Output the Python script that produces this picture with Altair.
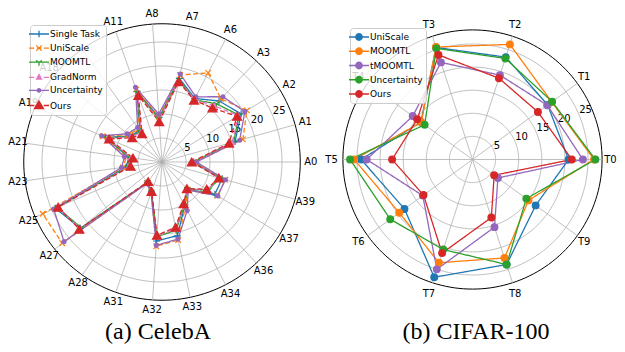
import altair as alt
import pandas as pd

# ---------------- (a) CelebA ----------------
# the label of the 9th spoke is hidden under the legend in the picture
celeba_attrs = ["A0", "A1", "A2", "A3", "A6", "A7", "A8", "A11", "", "A18", "A19",
                "A21", "A23", "A25", "A27", "A28", "A31", "A32", "A33", "A34", "A36",
                "A37", "A39"]
celeba_methods = ["Single Task", "UniScale", "MOOMTL", "GradNorm", "Uncertainty", "Ours"]
celeba_single_task = [6.6, 15.8, 19.3, 17.4, 14.9, 17.8, 9.3, 15.6, 8.0, 8.6, 12.8, 7.0,
                      7.5, 24.2, 21.9, 5.3, 6.6, 16.5, 15.7, 10.3, 7.8, 12.9, 13.0]
celeba_uniscale = [6.8, 17.5, 20.7, 18.0, 20.9, 18.5, 9.5, 16.0, 8.4, 9.0, 13.5, 7.5,
                   8.2, 27.1, 26.8, 5.4, 6.7, 17.6, 16.6, 10.6, 7.9, 13.5, 13.7]
celeba_moomtl = [6.5, 15.5, 18.8, 16.6, 14.6, 17.5, 9.0, 15.3, 7.7, 8.5, 12.5, 6.8,
                 7.2, 23.8, 21.7, 5.2, 6.6, 15.6, 14.5, 10.1, 7.7, 11.3, 12.5]
celeba_gradnorm = [6.4, 15.2, 18.6, 16.0, 14.7, 17.3, 8.8, 15.0, 7.5, 8.3, 12.3, 6.5,
                   7.0, 23.7, 22.0, 5.1, 6.6, 15.5, 14.2, 10.0, 7.7, 11.1, 12.4]
celeba_uncertainty = [7.2, 16.8, 20.2, 18.6, 15.3, 18.7, 10.0, 16.5, 8.8, 9.3, 13.7, 7.9,
                      8.5, 24.6, 26.3, 5.5, 6.8, 17.4, 16.4, 11.4, 8.0, 13.6, 13.7]
celeba_ours = [6.2, 14.5, 18.3, 15.4, 14.5, 17.1, 8.4, 14.7, 7.2, 8.0, 12.0, 6.1,
               6.6, 23.6, 22.2, 5.0, 6.5, 15.3, 13.9, 9.8, 7.6, 10.9, 12.3]
celeba_ticks = [5, 10, 15, 20, 25]
celeba_rmax = 28.8

# ---------------- (b) CIFAR-100 ----------------
cifar_tasks = ["T0", "T1", "T2", "T3", "T4", "T5", "T6", "T7", "T8", "T9"]
cifar_methods = ["UniScale", "MOOMTL", "tMOOMTL", "Uncertainty", "Ours"]
cifar_uniscale = [20.8, 20.1, 23.3, 25.5, 13.8, 24.1, 18.2, 26.8, 23.9, 16.9]
cifar_moomtl = [26.3, 21.2, 26.2, 25.6, 13.7, 25.6, 19.6, 23.5, 22.4, 15.0]
cifar_tmoomtl = [23.9, 20.0, 19.2, 22.1, 16.0, 22.9, 13.3, 25.0, 15.4, 6.8]
cifar_uncertainty = [26.6, 21.3, 23.0, 25.3, 12.8, 26.5, 22.0, 20.5, 23.9, 14.4]
cifar_ours = [21.5, 17.5, 18.5, 23.8, 14.8, 17.4, 13.1, 21.3, 13.2, 5.8]
cifar_ticks = [5, 10, 15, 20, 25]
cifar_rmax = 28.05

# ---------------- styles ----------------
SOLID = [1, 0]
DASH = [5, 2.5]
DASH_LEG = "M-2,0H-0.95M-0.45,0H0.45M0.95,0H2"

celeba_colors = ["#1f77b4", "#ff7f0e", "#2ca02c", "#e377c2", "#9467bd", "#d62728"]
celeba_dashes = [SOLID, DASH, SOLID, DASH, SOLID, DASH]
celeba_shapes = ["M-1,0H1M0,-1V1", "M-1,-1L1,1M-1,1L1,-1",
                 "M0,0V1M0,0L-0.87,-0.5M0,0L0.87,-0.5", "triangle-up", "circle", "triangle-up"]
celeba_sizes = [49, 31, 49, 25, 16, 81]
celeba_legend_shapes = [
    "M-2,0H2M0,-0.65V0.65",
    DASH_LEG + "M-0.55,-0.55L0.55,0.55M-0.55,0.55L0.55,-0.55",
    "M-2,0H2M0,0V0.7M0,0L-0.6,-0.35M0,0L0.6,-0.35",
    DASH_LEG + "M0,-0.55L0.5,0.35L-0.5,0.35Z",
    "M-2,0H2M-0.35,0A0.35,0.35 0 1,1 0.35,0A0.35,0.35 0 1,1 -0.35,0Z",
    DASH_LEG + "M0,-0.9L0.9,0.6L-0.9,0.6Z",
]

cifar_colors = ["#1f77b4", "#ff7f0e", "#9467bd", "#2ca02c", "#d62728"]
cifar_dashes = [SOLID] * 5
cifar_shapes = ["circle"] * 5
cifar_sizes = [45] * 5
cifar_legend_shapes = ["M-2,0H2M-0.65,0A0.65,0.65 0 1,1 0.65,0A0.65,0.65 0 1,1 -0.65,0Z"] * 5

FONT = "DejaVu Sans"


def polar(r_expr, a_expr):
    return {"x": f"({r_expr}) * cos({a_expr})", "y": f"({r_expr}) * sin({a_expr})"}


def radar(attrs, methods, series, colors, dashes, shapes, sizes, legend_shapes,
          rmax, ticks, lab_right, lab_left, lab_vert, xdom, ydom, width, height,
          caption, cap_dx, lx, ly, row_pad):
    n = len(attrs)
    recs = []
    for m, vals in zip(methods, series):
        for k in range(n + 1):
            recs.append({"method": m, "k": k, "value": vals[k % n]})
    df = pd.DataFrame(recs)
    ang = f"datum.k * 2 * PI / {n}"
    X = alt.X("x:Q", scale=alt.Scale(domain=xdom, nice=False, zero=False), axis=None)
    Y = alt.Y("y:Q", scale=alt.Scale(domain=ydom, nice=False, zero=False), axis=None)

    ring_df = pd.DataFrame([{"r": r, "deg": d} for r in ticks for d in range(0, 361, 2)])
    rings = alt.Chart(ring_df).transform_calculate(
        **polar("datum.r", "datum.deg * PI / 180")
    ).mark_line(color="#b0b0b0", strokeWidth=0.8).encode(X, Y, detail="r:N", order="deg:Q")

    outer_df = pd.DataFrame({"deg": list(range(0, 361, 2))})
    outer = alt.Chart(outer_df).transform_calculate(
        **polar(str(rmax), "datum.deg * PI / 180")
    ).mark_line(color="black", strokeWidth=1).encode(X, Y, order="deg:Q")

    ax_df = pd.DataFrame({"k": list(range(n)), "label": attrs})
    spokes = alt.Chart(ax_df).transform_calculate(
        x="0", y="0", x2=f"{rmax} * cos({ang})", y2=f"{rmax} * sin({ang})"
    ).mark_rule(color="#b0b0b0", strokeWidth=0.8).encode(X, Y, x2="x2:Q", y2="y2:Q")

    labels = alt.Chart(ax_df).transform_filter("datum.label != ''").transform_calculate(
        c=f"cos({ang})", s=f"sin({ang})"
    ).transform_calculate(
        x=f"(datum.c >= 0 ? {lab_right} : {lab_left}) * datum.c",
        y=f"{lab_vert} * datum.s",
    ).mark_text(font=FONT, fontSize=10, color="black").encode(X, Y, text="label:N")

    tick_text = alt.Chart(pd.DataFrame({"r": ticks})).transform_calculate(
        **polar("datum.r", "PI / 8")
    ).mark_text(align="left", baseline="bottom", font=FONT, fontSize=10,
                color="black").encode(X, Y, text=alt.Text("r:Q", format="d"))

    cscale = alt.Scale(domain=methods, range=colors)
    lines = alt.Chart(df).transform_calculate(**polar("datum.value", ang)).mark_line(
        strokeWidth=1.3
    ).encode(
        X, Y,
        color=alt.Color("method:N", scale=cscale, legend=None),
        strokeDash=alt.StrokeDash("method:N", scale=alt.Scale(domain=methods, range=dashes),
                                  legend=None),
        order="k:Q",
    )

    pts = alt.Chart(df).transform_filter(f"datum.k < {n}").transform_calculate(
        **polar("datum.value", ang)
    ).mark_point(filled=True, strokeWidth=1.2, opacity=1).encode(
        X, Y,
        fill=alt.Fill("method:N", scale=cscale, legend=None),
        stroke=alt.Stroke("method:N", scale=cscale, legend=None),
        shape=alt.Shape("method:N", scale=alt.Scale(domain=methods, range=shapes), legend=None),
        size=alt.Size("method:N", scale=alt.Scale(type="ordinal", domain=methods, range=sizes),
                      legend=None),
    )

    leg = alt.Legend(
        title=None, orient="none", legendX=lx, legendY=ly,
        fillColor="rgba(255,255,255,0.8)", strokeColor="#cccccc", cornerRadius=3,
        padding=3, labelFont=FONT, labelFontSize=9, labelColor="black",
        labelOffset=5, rowPadding=row_pad, symbolSize=100, symbolStrokeWidth=1.3,
        labelLimit=300,
    )
    legend_layer = alt.Chart(pd.DataFrame({"method": methods})).transform_filter(
        "false"
    ).mark_point(filled=True, strokeWidth=1.3, size=100, opacity=1).encode(
        fill=alt.Fill("method:N", scale=cscale, legend=leg),
        stroke=alt.Stroke("method:N", scale=cscale, legend=leg),
        shape=alt.Shape("method:N", scale=alt.Scale(domain=methods, range=legend_shapes),
                        legend=leg),
    )

    return alt.layer(
        rings, outer, spokes, tick_text, labels, lines, pts, legend_layer
    ).resolve_scale(
        fill="independent", stroke="independent", shape="independent", size="independent"
    ).properties(
        width=width, height=height,
        title=alt.TitleParams(text=caption, orient="bottom", anchor="middle",
                              font="Liberation Serif", fontSize=24, fontWeight="normal",
                              color="black", baseline="alphabetic", offset=21, dx=cap_dx),
    )


# left panel: centre (162,162), 4.8 px / unit ; right: centre (472.5,159.5), 4.62 px / unit
left = radar(
    celeba_attrs, celeba_methods,
    [celeba_single_task, celeba_uniscale, celeba_moomtl, celeba_gradnorm,
     celeba_uncertainty, celeba_ours],
    celeba_colors, celeba_dashes, celeba_shapes, celeba_sizes, celeba_legend_shapes,
    celeba_rmax, celeba_ticks, 31.0, 30.3, 30.94,
    [-32.083, 32.083], [-32.5, 32.083], 308, 310, "(a) CelebA", -4, 22, 17, 2.1,
)
right = radar(
    cifar_tasks, cifar_methods,
    [cifar_uniscale, cifar_moomtl, cifar_tmoomtl, cifar_uncertainty, cifar_ours],
    cifar_colors, cifar_dashes, cifar_shapes, cifar_sizes, cifar_legend_shapes,
    cifar_rmax, cifar_ticks, 29.87, 30.5, 30.5,
    [-33.874, 31.277], [-34.307, 32.792], 301, 310, "(b) CIFAR-100", 9.5, 34, 20, 2.25,
)

chart = alt.hconcat(left, right, spacing=0, bounds="flush").resolve_scale(
    x="independent", y="independent", color="independent", strokeDash="independent",
    fill="independent", stroke="independent", shape="independent", size="independent",
).properties(padding=0).configure_view(stroke=None)

chart.save("out.html", embed_options={"renderer": "svg", "actions": False})
